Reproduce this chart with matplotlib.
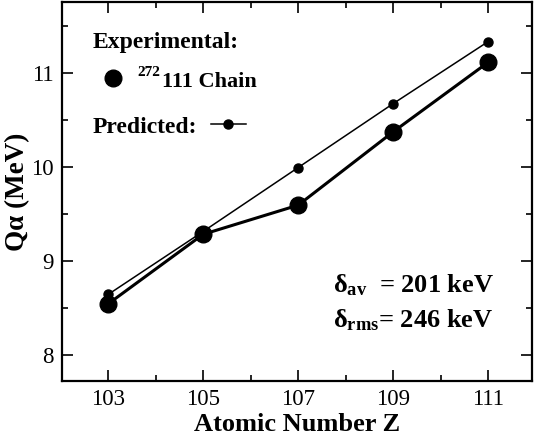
import matplotlib
matplotlib.use("Agg")
import matplotlib.pyplot as plt
from matplotlib.ticker import MultipleLocator

plt.rcParams['font.family'] = ['Liberation Serif', 'DejaVu Serif']
plt.rcParams['mathtext.fontset'] = 'custom'
plt.rcParams['mathtext.rm'] = 'Liberation Serif'
plt.rcParams['mathtext.bf'] = 'Liberation Serif:bold'
plt.rcParams['mathtext.it'] = 'Liberation Serif:italic'

# data
z = [103, 105, 107, 109, 111]
q_exp = [8.54, 9.28, 9.59, 10.37, 11.11]
q_pred = [8.64, 9.31, 9.99, 10.67, 11.33]
x_ticks = [103, 105, 107, 109, 111]
y_ticks = [8, 9, 10, 11]

fig = plt.figure(figsize=(5.35, 4.36), dpi=100)
ax = fig.add_axes([0.1159, 0.1261, 0.8785, 0.8693])

ax.plot(z, q_pred, '-o', color='black', lw=1.1, ms=6.5)
ax.plot(z, q_exp, '-o', color='black', lw=2.2, ms=12)

ax.set_xlim(102.03, 111.92)
ax.set_ylim(7.72, 11.75)
ax.set_xticks(x_ticks)
ax.set_yticks(y_ticks)
ax.xaxis.set_minor_locator(MultipleLocator(1))
ax.yaxis.set_minor_locator(MultipleLocator(0.5))
ax.tick_params(which='both', direction='in', top=True, right=True,
               labelsize=16.5, width=1.2, pad=6)
ax.tick_params(which='major', length=8)
ax.tick_params(which='minor', length=4.5)
for s in ax.spines.values():
    s.set_linewidth(1.6)

ax.set_xlabel('Atomic Number Z', fontsize=19, fontweight='bold', labelpad=2)
ax.set_ylabel('Qα (MeV)', fontsize=19.5, fontweight='bold', labelpad=1)

# legend drawn by hand
ax.text(0.066, 0.892, 'Experimental:', transform=ax.transAxes,
        fontsize=17, fontweight='bold', va='center')
ax.plot([0.108], [0.800], 'o', color='black', ms=12, transform=ax.transAxes)
ax.text(0.160, 0.815, '272', transform=ax.transAxes,
        fontsize=11, fontweight='bold', va='center')
ax.text(0.213, 0.789, '111 Chain', transform=ax.transAxes,
        fontsize=16, fontweight='bold', va='center')
ax.text(0.066, 0.670, 'Predicted:', transform=ax.transAxes,
        fontsize=17, fontweight='bold', va='center')
ax.plot([0.317, 0.391], [0.678, 0.678], '-', color='black', lw=1.1,
        transform=ax.transAxes)
ax.plot([0.354], [0.678], 'o', color='black', ms=6.5, transform=ax.transAxes)

ax.text(0.577, 0.253, r'δ$_{\mathbf{av}}$  = 201 keV', transform=ax.transAxes,
        fontsize=19, fontweight='bold', va='center')
ax.text(0.577, 0.161, r'δ$_{\mathbf{rms}}$= 246 keV', transform=ax.transAxes,
        fontsize=19, fontweight='bold', va='center')

fig.savefig('out.png', dpi=100)
